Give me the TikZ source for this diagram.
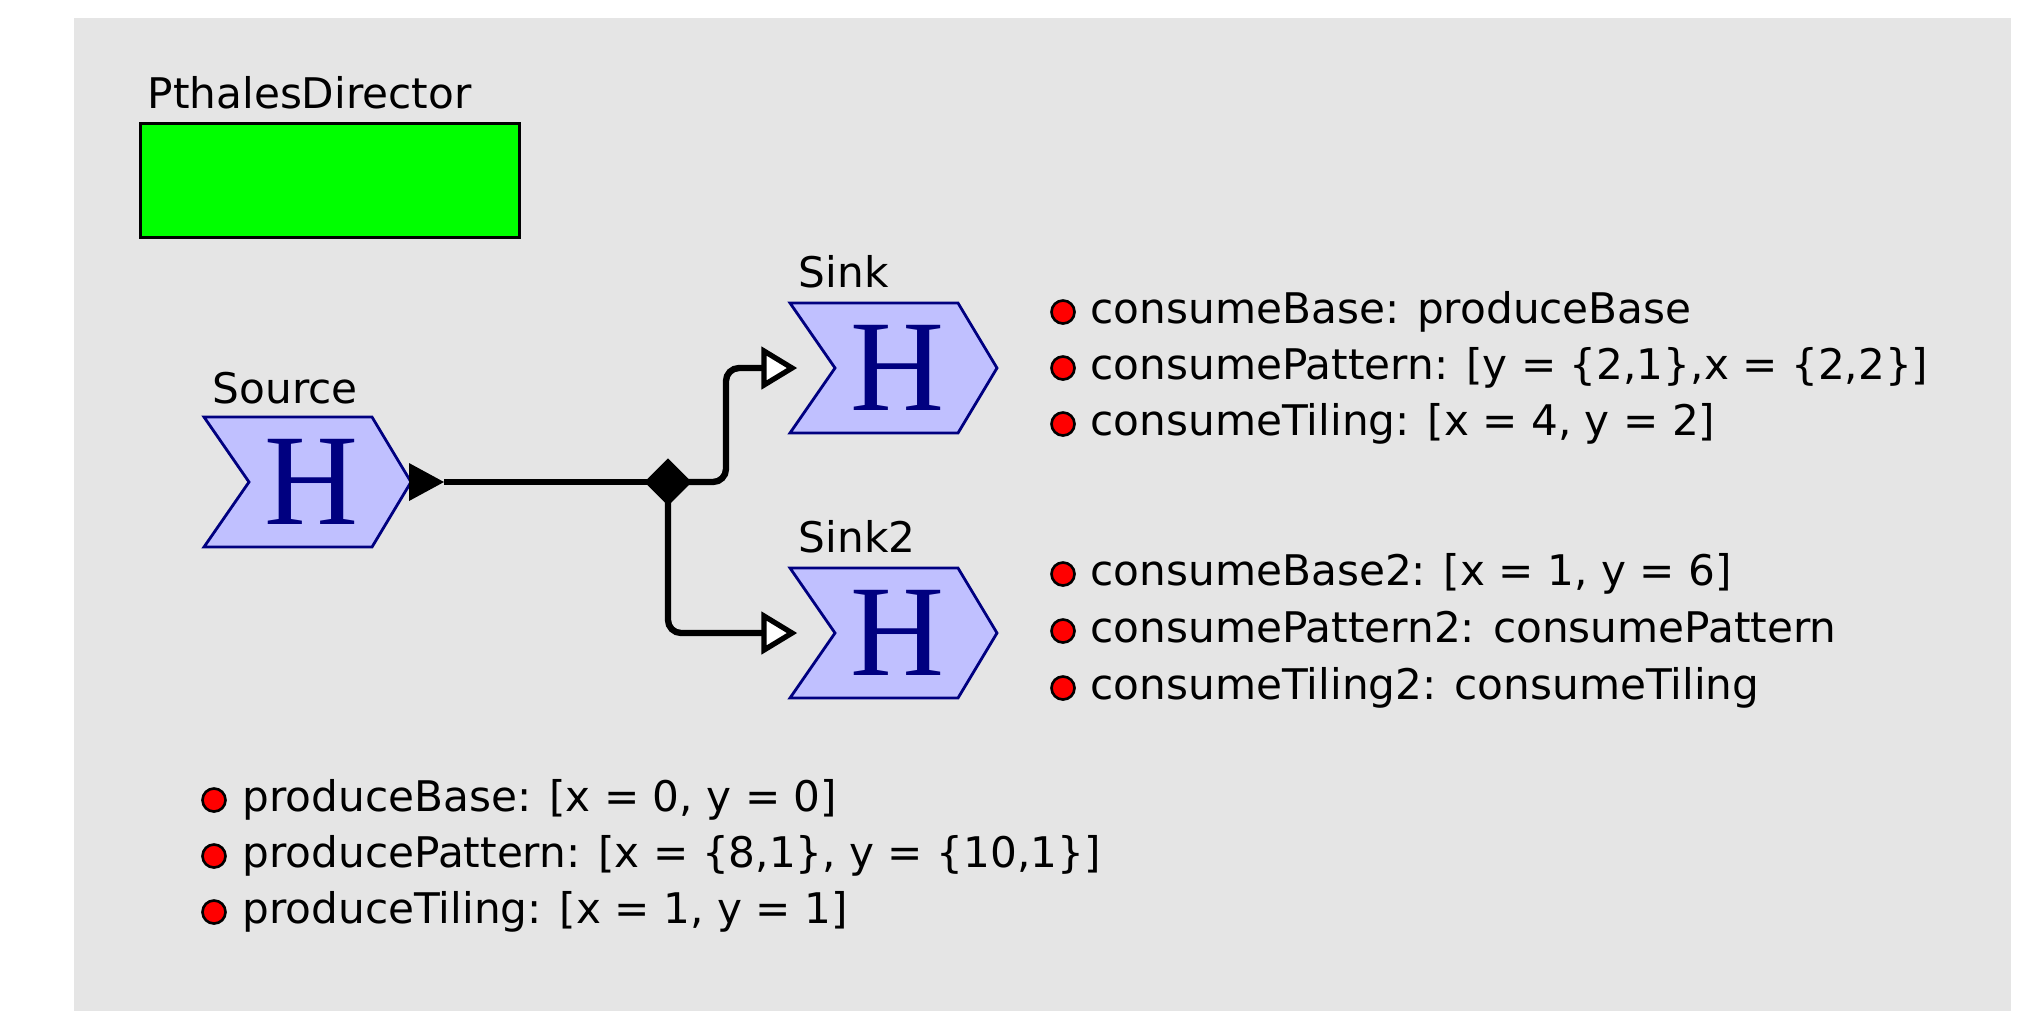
\documentclass[tikz,border=0pt]{standalone}
\usepackage{fontspec}
\setmainfont{DejaVu Sans}
\newfontfamily\hfont{Liberation Serif}
\usetikzlibrary{shapes.geometric}

\definecolor{canvas}{RGB}{229,229,229}
\definecolor{actorfill}{RGB}{192,192,255}
\definecolor{actorline}{RGB}{0,0,128}
\definecolor{dirgreen}{RGB}{0,255,0}

\tikzset{
  wire/.style={line width=1.8pt},
  dot/.style={circle, draw=black, fill=red, line width=0.75pt, minimum size=0.23cm, inner sep=0pt},
  param/.style={anchor=base west, inner sep=0pt},
  hlabel/.style={font=\hfont\fontsize{37}{37}\selectfont, text=actorline, inner sep=0pt},
  inport/.style={draw=black, fill=white, line width=1.5pt},
}

% actor outline: left x, middle y
\newcommand{\hactor}[2]{\draw[actorline, fill=actorfill, line width=0.8pt] (#1,#2) ++(0,-65) -- ++(168,0) -- ++(39,65) -- ++(-39,65) -- ++(-168,0) -- ++(45,-65) -- cycle;}

\begin{document}
\begin{tikzpicture}[x=0.01cm, y=-0.01cm, font=\fontsize{12}{14}\selectfont]
\useasboundingbox (0,0) rectangle (2037,1011);
\fill[white] (0,0) rectangle (2037,1011);
\fill[canvas] (74,18) rectangle (2011,1011);

% director
\node[param] (dirlabel) at (147,108) {PthalesDirector};
\node[draw=black, fill=dirgreen, line width=0.9pt, minimum width=3.79cm, minimum height=1.14cm, anchor=north west, inner sep=0pt] (director) at (139,122) {};

% actors
\hactor{204}{482}
\hactor{790}{368}
\hactor{790}{633}

\node[hlabel] (source) at (311,482) {H};
\node[hlabel] (sink) at (897,368) {H};
\node[hlabel] (sink2) at (897,633) {H};

\node[param] (sourcelabel) at (212,403) {Source};
\node[param] (sinklabel) at (798,287) {Sink};
\node[param] (sink2label) at (798,552) {Sink2};

% ports
\coordinate (srcout) at (444,482);
\coordinate (sinkin) at (764,368);
\coordinate (sink2in) at (764,633);

% relation and wires
\node[diamond, fill=black, minimum width=0.48cm, minimum height=0.48cm, inner sep=0pt] (rel) at (668,482) {};
\draw[wire] (srcout) -- (rel.center);
\draw[wire, rounded corners=0.13cm] (rel.center) -- ++(58,0) |- (sinkin);
\draw[wire, rounded corners=0.13cm] (rel.center) |- (sink2in);

\fill[black] (409,463) -- (srcout) -- (409,501) -- cycle;
\draw[inport] (764,351) -- (792,368) -- (764,385) -- cycle;
\draw[inport] (764,616) -- (792,633) -- (764,650) -- cycle;

% sink parameters
\node[dot] (cbdot) at (1063,312) {};
\node[param] (cb) at (1090,323) {consumeBase: produceBase};
\node[dot] (cpdot) at (1063,368) {};
\node[param] (cp) at (1090,379) {consumePattern: [y = \{2,1\},x = \{2,2\}]};
\node[dot] (ctdot) at (1063,424) {};
\node[param] (ct) at (1090,435) {consumeTiling: [x = 4, y = 2]};

% sink2 parameters
\node[dot] (cb2dot) at (1063,574) {};
\node[param] (cb2) at (1090,585) {consumeBase2: [x = 1, y = 6]};
\node[dot] (cp2dot) at (1063,631) {};
\node[param] (cp2) at (1090,642) {consumePattern2: consumePattern};
\node[dot] (ct2dot) at (1063,688) {};
\node[param] (ct2) at (1090,699) {consumeTiling2: consumeTiling};

% source parameters
\node[dot] (pbdot) at (214,800) {};
\node[param] (pb) at (242,811) {produceBase: [x = 0, y = 0]};
\node[dot] (ppdot) at (214,856) {};
\node[param] (pp) at (242,867) {producePattern: [x = \{8,1\}, y = \{10,1\}]};
\node[dot] (ptdot) at (214,912) {};
\node[param] (pt) at (242,923) {produceTiling: [x = 1, y = 1]};

\end{tikzpicture}
\end{document}
